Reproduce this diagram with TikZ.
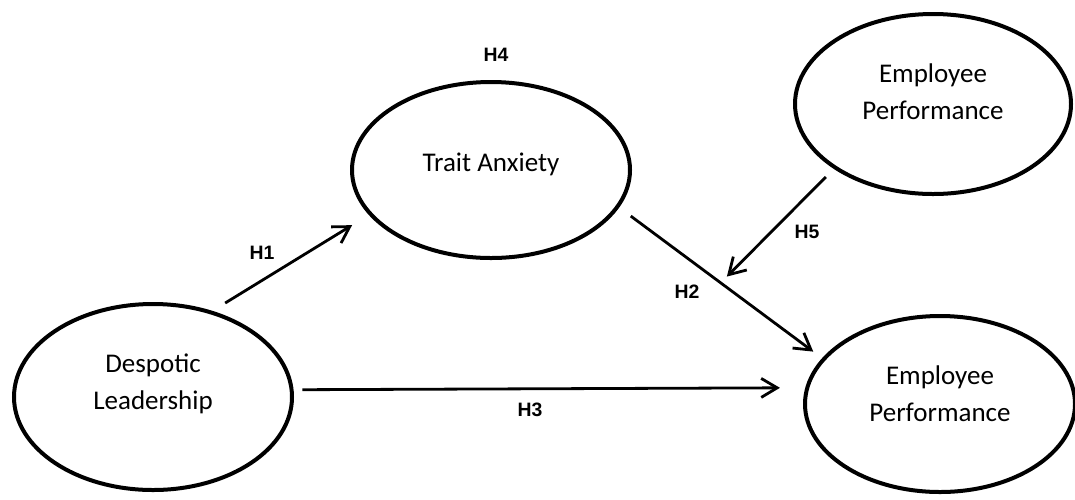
\documentclass[tikz,border=0pt]{standalone}
\usepackage{fontspec}
\setmainfont{Carlito}
\newfontfamily\hypfont{Liberation Sans}
\usetikzlibrary{shapes.geometric, arrows.meta, positioning}
\tikzstyle{construct} = [ellipse, draw=black, line width=2pt, inner sep=0pt, outer sep=0pt]
\tikzstyle{context} = [align=center, font=\fontsize{13.5}{18.5}\selectfont]
\tikzstyle{hyp} = [font=\hypfont\bfseries\fontsize{9.7}{11}\selectfont, inner sep=1pt]
\tikzstyle{arrow} = [-{Straight Barb[length=8pt, width=9.5pt]}, line width=1.4pt]

\begin{document}
\begin{tikzpicture}[x=0.5pt, y=-0.5pt]
    \useasboundingbox (0,0) rectangle (1075,499);

    % Despotic leadership
    \node[construct, minimum width=139pt, minimum height=93pt, label={[context, yshift=6.5pt]center:Despotic\\Leadership}] (desp) at (153,397) {};

    % Trait anxiety
    \node[construct, minimum width=139pt, minimum height=88pt, label={[context, yshift=3pt]center:Trait Anxiety}] (trait) at (491,170) {};

    % Employee performance (top)
    \node[construct, minimum width=138pt, minimum height=90pt, label={[context, yshift=6pt]center:Employee\\Performance}] (empa) at (933,104) {};

    % Employee performance (bottom)
    \node[construct, minimum width=135pt, minimum height=88pt, label={[context, yshift=5pt]center:Employee\\Performance}] (empb) at (940,404) {};

    % Hypotheses
    \node[hyp] (h1) at (262,253) {H1};
    \node[hyp] (h2) at (687,292) {H2};
    \node[hyp] (h3) at (530,410) {H3};
    \node[hyp] (h4) at (496,55) {H4};
    \node[hyp] (h5) at (807,232) {H5};

    % Arrows
    \draw[arrow, shorten <=8.8pt, shorten >=10.8pt] (desp.56) -- (trait.200);
    \draw[arrow, shorten <=8.2pt, shorten >=6.5pt] (trait.-16.5) -- (empb.159) coordinate[pos=0.5] (h2mid);
    \draw[arrow, shorten <=5.4pt, shorten >=13.7pt] (desp.3.7) -- (empb.173.1);
    \draw[arrow, shorten <=6.7pt, shorten >=4.4pt] (empa.213) -- (h2mid);
\end{tikzpicture}
\end{document}
